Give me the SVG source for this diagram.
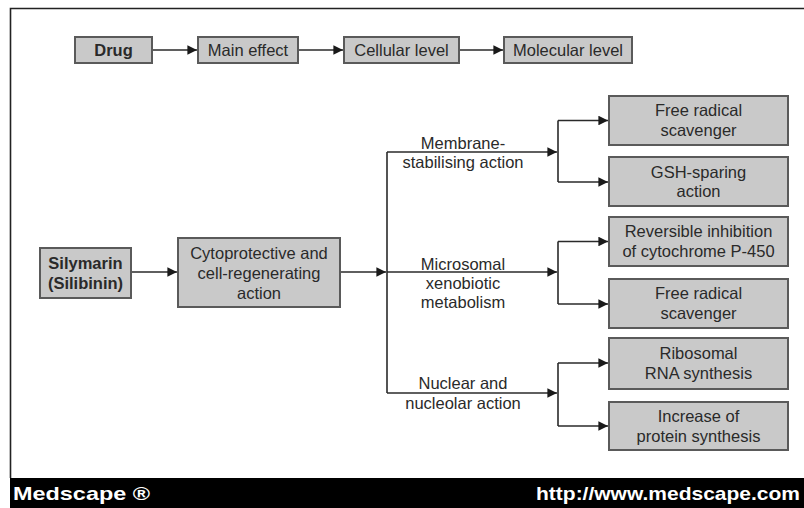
<svg xmlns="http://www.w3.org/2000/svg" width="804" height="508" viewBox="0 0 804 508">
<style>
  .box { fill: #c9c9c9; stroke: #5a5a5a; stroke-width: 2; }
  .t { font-family: "Liberation Sans", Arial, sans-serif; font-size: 16.5px; fill: #2a2a2a; text-anchor: middle; }
  .b { font-weight: bold; }
  .ln { fill: none; stroke: #2a2a2a; stroke-width: 1.6; }
  .ft { font-family: "Liberation Sans", Arial, sans-serif; font-weight: bold; font-size: 19px; fill: #ffffff; }
</style>
<defs>
  <marker id="ah" viewBox="0 0 10 10" refX="10" refY="5" markerWidth="6" markerHeight="6" markerUnits="strokeWidth" orient="auto">
    <path d="M0,0 L10,5 L0,10 z" fill="#1a1a1a"/>
  </marker>
</defs>
<rect x="0" y="0" width="804" height="508" fill="#ffffff"/>
<!-- frame -->
<path d="M10.5,478 V8.5 H804" fill="none" stroke="#222" stroke-width="1.6"/>

<!-- connectors -->
<g id="connectors">
  <line class="ln" x1="152" y1="50" x2="197" y2="50" marker-end="url(#ah)"/>
  <line class="ln" x1="298" y1="50" x2="343" y2="50" marker-end="url(#ah)"/>
  <line class="ln" x1="459" y1="50" x2="503" y2="50" marker-end="url(#ah)"/>
  <line class="ln" x1="131" y1="272" x2="177" y2="272" marker-end="url(#ah)"/>
  <line class="ln" x1="340" y1="272" x2="386" y2="272" marker-end="url(#ah)"/>
  <path class="ln" d="M387,152 V393"/>
  <line class="ln" x1="387" y1="152" x2="557" y2="152" marker-end="url(#ah)"/>
  <line class="ln" x1="387" y1="272" x2="557" y2="272" marker-end="url(#ah)"/>
  <line class="ln" x1="387" y1="393" x2="557" y2="393" marker-end="url(#ah)"/>
  <path class="ln" d="M558,120.5 V182"/>
  <path class="ln" d="M558,241.5 V304"/>
  <path class="ln" d="M558,363 V426"/>
  <line class="ln" x1="558" y1="120.5" x2="608" y2="120.5" marker-end="url(#ah)"/>
  <line class="ln" x1="558" y1="182" x2="608" y2="182" marker-end="url(#ah)"/>
  <line class="ln" x1="558" y1="241.5" x2="608" y2="241.5" marker-end="url(#ah)"/>
  <line class="ln" x1="558" y1="304" x2="608" y2="304" marker-end="url(#ah)"/>
  <line class="ln" x1="558" y1="363" x2="608" y2="363" marker-end="url(#ah)"/>
  <line class="ln" x1="558" y1="426" x2="608" y2="426" marker-end="url(#ah)"/>
  <g id="labels">
    <text class="t" x="463" y="149">Membrane-</text>
    <text class="t" x="463" y="168">stabilising action</text>
    <text class="t" x="463" y="270">Microsomal</text>
    <text class="t" x="463" y="289">xenobiotic</text>
    <text class="t" x="463" y="308">metabolism</text>
    <text class="t" x="463" y="389">Nuclear and</text>
    <text class="t" x="463" y="409">nucleolar action</text>
  </g>
</g>

<!-- top row -->
<g id="drug"><rect class="box" x="75" y="37" width="77" height="26"/><text class="t b" x="113.5" y="56">Drug</text></g>
<g id="main-effect"><rect class="box" x="198" y="37" width="100" height="26"/><text class="t" x="248" y="56">Main effect</text></g>
<g id="cellular-level"><rect class="box" x="344" y="37" width="115" height="26"/><text class="t" x="401.5" y="56">Cellular level</text></g>
<g id="molecular-level"><rect class="box" x="504" y="37" width="128" height="26"/><text class="t" x="568" y="56">Molecular level</text></g>

<!-- main -->
<g id="silymarin"><rect class="box" x="40" y="248" width="91" height="50"/><text class="t b" x="85.5" y="269">Silymarin</text><text class="t b" x="85.5" y="289">(Silibinin)</text></g>
<g id="cytoprotective"><rect class="box" x="178" y="238" width="162" height="69"/><text class="t" x="259" y="259">Cytoprotective and</text><text class="t" x="259" y="279">cell-regenerating</text><text class="t" x="259" y="299">action</text></g>

<g id="free-radical-1"><rect class="box" x="609" y="96" width="179" height="49"/><text class="t" x="698.5" y="116">Free radical</text><text class="t" x="698.5" y="136">scavenger</text></g>
<g id="gsh-sparing"><rect class="box" x="609" y="157" width="179" height="49"/><text class="t" x="698.5" y="178">GSH-sparing</text><text class="t" x="698.5" y="197">action</text></g>
<g id="reversible-inhibition"><rect class="box" x="609" y="217" width="179" height="49"/><text class="t" x="698.5" y="237">Reversible inhibition</text><text class="t" x="698.5" y="257">of cytochrome P-450</text></g>
<g id="free-radical-2"><rect class="box" x="609" y="279" width="179" height="49"/><text class="t" x="698.5" y="299">Free radical</text><text class="t" x="698.5" y="319">scavenger</text></g>
<g id="ribosomal-rna"><rect class="box" x="609" y="338" width="179" height="51"/><text class="t" x="698.5" y="359">Ribosomal</text><text class="t" x="698.5" y="379">RNA synthesis</text></g>
<g id="protein-synthesis"><rect class="box" x="609" y="402" width="179" height="48"/><text class="t" x="698.5" y="422">Increase of</text><text class="t" x="698.5" y="442">protein synthesis</text></g>

<!-- footer -->
<g id="footer">
  <rect x="10" y="478" width="794" height="30" fill="#000000"/>
  <text class="ft" x="13" y="500" textLength="137" lengthAdjust="spacingAndGlyphs">Medscape ®</text>
  <text class="ft" x="536" y="500" textLength="264" lengthAdjust="spacingAndGlyphs">http://www.medscape.com</text>
</g>
</svg>
